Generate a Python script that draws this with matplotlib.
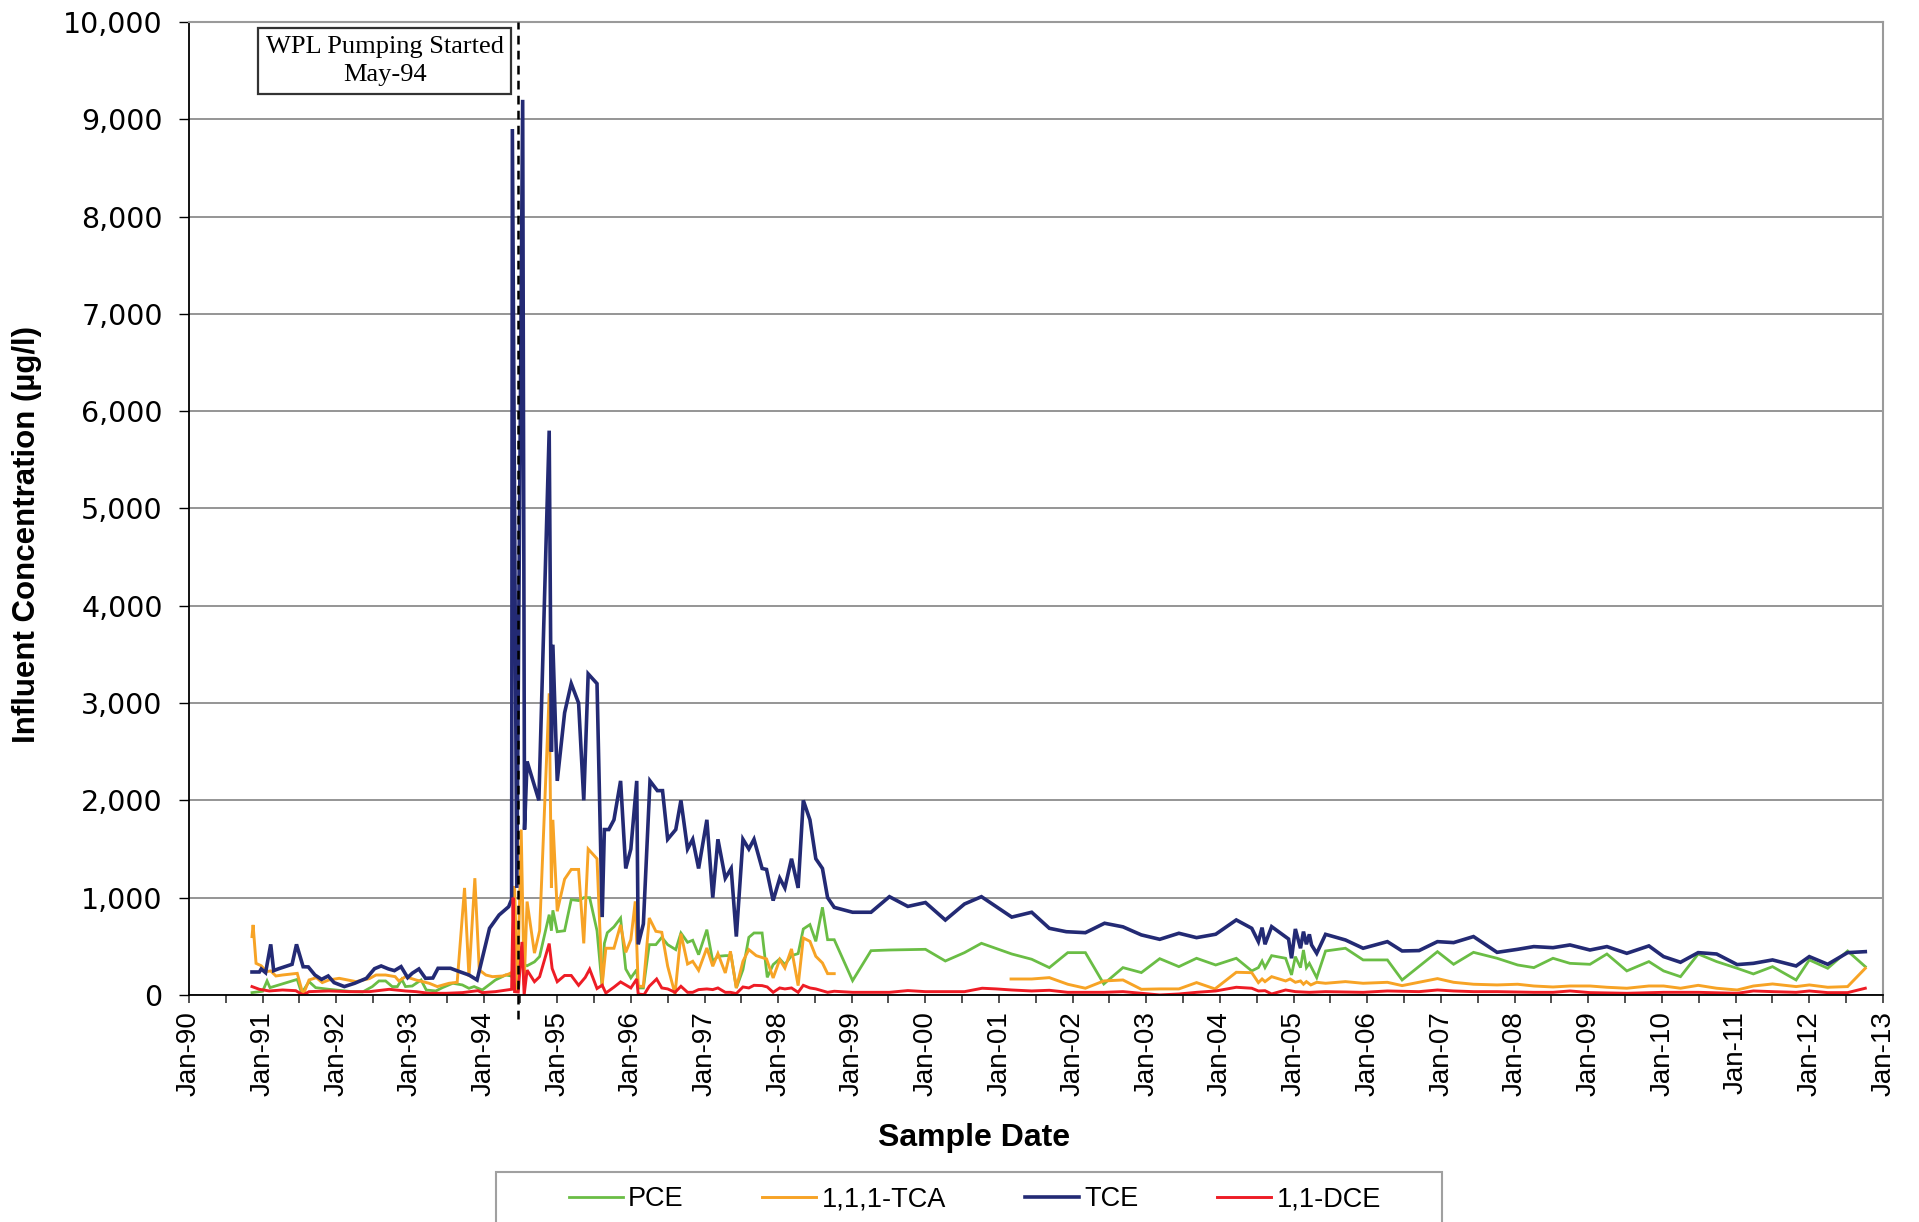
import matplotlib
matplotlib.use("Agg")
import matplotlib.pyplot as plt
import matplotlib.dates as mdates
from matplotlib.patches import Rectangle
from matplotlib.ticker import FuncFormatter
import numpy as np
from datetime import datetime, timedelta

# Sample times are kept as decimal years, concentrations in ug/l
pce_t = [1990.855, 1991.00, 1991.06, 1991.10, 1991.47, 1991.53, 1991.63, 1991.72, 1991.90, 1992.22,
         1992.36, 1992.49, 1992.58, 1992.67, 1992.76, 1992.83, 1992.89, 1992.94, 1993.03, 1993.15,
         1993.22, 1993.35, 1993.44, 1993.58, 1993.71, 1993.80, 1993.87, 1993.98, 1994.16, 1994.30,
         1994.38, 1994.45, 1994.52, 1994.55, 1994.59, 1994.69, 1994.76, 1994.89, 1994.92, 1994.94,
         1995.00, 1995.10, 1995.19, 1995.29, 1995.36, 1995.44, 1995.54, 1995.61, 1995.64, 1995.68,
         1995.77, 1995.86, 1995.93, 1996.00, 1996.08, 1996.10, 1996.17, 1996.25, 1996.34, 1996.42,
         1996.50, 1996.61, 1996.68, 1996.77, 1996.84, 1996.92, 1997.03, 1997.11, 1997.18, 1997.28,
         1997.36, 1997.43, 1997.52, 1997.60, 1997.67, 1997.78, 1997.85, 1997.93, 1998.02, 1998.09,
         1998.18, 1998.27, 1998.34, 1998.43, 1998.51, 1998.60, 1998.67, 1998.76, 1999.01, 1999.26,
         1999.51, 1999.76, 2000.00, 2000.27, 2000.53, 2000.76, 2001.17, 2001.44, 2001.68, 2001.93,
         2002.17, 2002.42, 2002.68, 2002.93, 2003.18, 2003.44, 2003.68, 2003.94, 2004.22, 2004.43,
         2004.52, 2004.57, 2004.61, 2004.70, 2004.89, 2004.97, 2005.02, 2005.09, 2005.13, 2005.17,
         2005.21, 2005.31, 2005.43, 2005.70, 2005.94, 2006.27, 2006.47, 2006.95, 2007.17, 2007.44,
         2007.76, 2008.04, 2008.26, 2008.52, 2008.75, 2009.02, 2009.25, 2009.52, 2009.82, 2010.02,
         2010.25, 2010.49, 2010.74, 2011.02, 2011.24, 2011.50, 2011.82, 2012.00, 2012.25, 2012.52,
         2012.76]
pce_v = [24, 38, 144, 75, 160, 17, 137, 75, 58, 34,
         31, 86, 144, 144, 86, 86, 160, 86, 92, 154,
         51, 41, 75, 120, 103, 68, 86, 51, 154, 205,
         195, 30, 500, 310, 300, 340, 395, 825, 660, 870,
         650, 660, 980, 970, 1000, 1000, 660, 80, 530, 640,
         700, 790, 267, 175, 260, 72, 72, 517, 517, 592,
         517, 466, 637, 541, 562, 414, 671, 346, 397, 404,
         404, 72, 260, 592, 637, 637, 181, 312, 370, 312,
         404, 425, 678, 723, 551, 901, 568, 568, 147, 455,
         462, 465, 469, 349, 435, 531, 421, 367, 281, 435,
         435, 113, 281, 230, 373, 291, 377, 308, 377, 247,
         281, 349, 281, 404, 377, 206, 394, 281, 462, 281,
         325, 178, 452, 480, 360, 360, 154, 445, 315, 438,
         377, 308, 281, 377, 325, 315, 421, 247, 343, 247,
         188, 421, 343, 274, 216, 291, 154, 360, 274, 452,
         291]

tca_t = [1990.855, 1990.87, 1990.91, 1990.98, 1991.05, 1991.11, 1991.18, 1991.27, 1991.47, 1991.55,
         1991.63, 1991.73, 1991.81, 1991.90, 1992.04, 1992.27, 1992.45, 1992.54, 1992.67, 1992.80,
         1992.85, 1992.94, 1993.08, 1993.26, 1993.37, 1993.53, 1993.64, 1993.74, 1993.80, 1993.88,
         1993.94, 1994.03, 1994.12, 1994.26, 1994.34, 1994.40, 1994.42, 1994.46, 1994.51, 1994.55,
         1994.59, 1994.69, 1994.76, 1994.89, 1994.92, 1994.94, 1995.00, 1995.10, 1995.19, 1995.29,
         1995.36, 1995.42, 1995.54, 1995.61, 1995.66, 1995.77, 1995.86, 1995.93, 1996.00, 1996.06,
         1996.10, 1996.17, 1996.25, 1996.34, 1996.42, 1996.50, 1996.60, 1996.68, 1996.77, 1996.84,
         1996.92, 1997.03, 1997.11, 1997.18, 1997.28, 1997.35, 1997.43, 1997.52, 1997.60, 1997.70,
         1997.84, 1997.93, 1998.02, 1998.09, 1998.18, 1998.27, 1998.34, 1998.43, 1998.51, 1998.60,
         1998.67, 1998.76, 2000.00, 2001.16, 2001.44, 2001.68, 2001.93, 2002.17, 2002.42, 2002.68,
         2002.93, 2003.18, 2003.44, 2003.68, 2003.93, 2004.22, 2004.43, 2004.52, 2004.57, 2004.61,
         2004.70, 2004.89, 2004.95, 2005.02, 2005.09, 2005.13, 2005.17, 2005.23, 2005.31, 2005.43,
         2005.70, 2005.94, 2006.27, 2006.47, 2006.70, 2006.95, 2007.17, 2007.44, 2007.76, 2008.04,
         2008.26, 2008.52, 2008.75, 2009.02, 2009.25, 2009.52, 2009.82, 2010.02, 2010.25, 2010.49,
         2010.74, 2011.02, 2011.24, 2011.50, 2011.82, 2012.00, 2012.25, 2012.52, 2012.76]
tca_v = [600, 720, 325, 300, 240, 247, 195, 205, 222, 0,
         154, 178, 127, 154, 171, 137, 168, 205, 205, 188,
         144, 188, 154, 120, 86, 120, 130, 1100, 188, 1200,
         257, 205, 188, 195, 215, 238, 1120, 30, 1700, 100,
         960, 430, 660, 3100, 1100, 1800, 860, 1190, 1290, 1290,
         530, 1500, 1400, 100, 480, 480, 720, 438, 568, 962,
         89, 89, 791, 654, 644, 295, 10, 630, 318, 346,
         253, 483, 295, 425, 226, 449, 72, 346, 466, 404,
         370, 175, 363, 277, 473, 96, 586, 551, 397, 329,
         219, 219, None, 164, 164, 178, 110, 69, 144, 154,
         58, 62, 62, 127, 62, 233, 229, 127, 164, 137,
         188, 144, 164, 130, 144, 110, 137, 103, 130, 120,
         137, 120, 130, 96, 130, 168, 130, 110, 103, 110,
         92, 82, 92, 92, 79, 69, 92, 92, 69, 99,
         69, 51, 92, 113, 86, 103, 79, 86, 274]

tce_t = [1990.855, 1990.955, 1990.98, 1991.04, 1991.11, 1991.15, 1991.22, 1991.40, 1991.46, 1991.55,
         1991.62, 1991.71, 1991.80, 1991.89, 1991.97, 1992.11, 1992.25, 1992.41, 1992.52, 1992.61,
         1992.71, 1992.79, 1992.88, 1992.97, 1993.03, 1993.12, 1993.21, 1993.31, 1993.38, 1993.55,
         1993.67, 1993.80, 1993.91, 1994.08, 1994.21, 1994.34, 1994.38, 1994.39, 1994.45, 1994.53,
         1994.555, 1994.59, 1994.75, 1994.89, 1994.92, 1994.94, 1995.00, 1995.10, 1995.19, 1995.29,
         1995.36, 1995.42, 1995.54, 1995.61, 1995.64, 1995.70, 1995.77, 1995.86, 1995.93, 1996.00,
         1996.08, 1996.10, 1996.17, 1996.26, 1996.36, 1996.43, 1996.50, 1996.61, 1996.68, 1996.77,
         1996.84, 1996.92, 1997.03, 1997.11, 1997.18, 1997.28, 1997.36, 1997.43, 1997.52, 1997.60,
         1997.67, 1997.78, 1997.84, 1997.93, 1998.02, 1998.09, 1998.18, 1998.27, 1998.34, 1998.43,
         1998.51, 1998.60, 1998.67, 1998.76, 1999.01, 1999.26, 1999.51, 1999.76, 2000.00, 2000.27,
         2000.53, 2000.76, 2000.96, 2001.17, 2001.44, 2001.68, 2001.91, 2002.17, 2002.43, 2002.68,
         2002.93, 2003.18, 2003.44, 2003.68, 2003.94, 2004.22, 2004.43, 2004.52, 2004.57, 2004.61,
         2004.70, 2004.93, 2004.97, 2005.02, 2005.09, 2005.13, 2005.17, 2005.21, 2005.24, 2005.31,
         2005.43, 2005.70, 2005.94, 2006.27, 2006.47, 2006.70, 2006.95, 2007.17, 2007.44, 2007.76,
         2008.04, 2008.26, 2008.52, 2008.75, 2009.02, 2009.25, 2009.52, 2009.82, 2010.02, 2010.25,
         2010.49, 2010.74, 2011.02, 2011.24, 2011.50, 2011.82, 2012.00, 2012.25, 2012.52, 2012.76]
tce_v = [236, 236, 267, 229, 520, 250, 270, 315, 520, 290,
         288, 205, 160, 195, 127, 86, 120, 171, 270, 298,
         267, 250, 291, 178, 223, 267, 171, 174, 274, 274,
         240, 205, 154, 685, 822, 907, 983, 8900, 1100, 9200,
         1700, 2400, 2000, 5800, 2500, 3600, 2200, 2900, 3200, 3000,
         2000, 3300, 3200, 800, 1700, 1700, 1800, 2200, 1300, 1500,
         2200, 520, 730, 2200, 2100, 2100, 1600, 1700, 2000, 1500,
         1600, 1300, 1800, 1000, 1600, 1200, 1300, 600, 1600, 1500,
         1600, 1300, 1290, 970, 1200, 1100, 1400, 1100, 2000, 1800,
         1400, 1300, 1000, 900, 850, 850, 1010, 910, 950, 770,
         935, 1010, 908, 800, 850, 685, 650, 640, 737, 700,
         617, 572, 634, 589, 624, 771, 685, 548, 692, 521,
         702, 575, 377, 678, 480, 651, 521, 623, 514, 428,
         623, 565, 480, 548, 452, 456, 548, 538, 600, 438,
         469, 497, 486, 514, 462, 497, 428, 504, 394, 336,
         435, 421, 312, 325, 360, 298, 394, 315, 435, 445]

dce_t = [1990.855, 1990.955, 1991.09, 1991.27, 1991.45, 1991.55, 1991.63, 1991.90, 1992.18, 1992.45,
         1992.72, 1992.94, 1993.08, 1993.26, 1993.49, 1993.71, 1993.92, 1993.98, 1994.16, 1994.38,
         1994.40, 1994.42, 1994.47, 1994.52, 1994.55, 1994.59, 1994.69, 1994.76, 1994.89, 1994.93,
         1995.00, 1995.10, 1995.19, 1995.29, 1995.38, 1995.44, 1995.54, 1995.61, 1995.66, 1995.77,
         1995.86, 1996.00, 1996.08, 1996.10, 1996.18, 1996.25, 1996.35, 1996.42, 1996.50, 1996.60,
         1996.68, 1996.77, 1996.84, 1996.92, 1997.03, 1997.11, 1997.18, 1997.28, 1997.35, 1997.43,
         1997.52, 1997.60, 1997.67, 1997.78, 1997.85, 1997.93, 1998.02, 1998.09, 1998.18, 1998.27,
         1998.34, 1998.43, 1998.51, 1998.67, 1998.76, 1999.01, 1999.26, 1999.51, 1999.76, 2000.00,
         2000.27, 2000.53, 2000.77, 2000.96, 2001.17, 2001.44, 2001.68, 2001.93, 2002.17, 2002.42,
         2002.68, 2002.93, 2003.18, 2003.44, 2003.68, 2003.94, 2004.22, 2004.43, 2004.52, 2004.61,
         2004.70, 2004.89, 2005.02, 2005.21, 2005.43, 2005.94, 2006.27, 2006.70, 2006.95, 2007.17,
         2007.44, 2007.76, 2008.26, 2008.52, 2008.75, 2009.02, 2009.52, 2010.02, 2010.49, 2011.02,
         2011.24, 2011.50, 2011.82, 2012.00, 2012.25, 2012.52, 2012.76]
dce_v = [86, 58, 41, 51, 44, 0, 34, 41, 34, 34,
         58, 41, 34, 17, 17, 24, 44, 24, 34, 58,
         1000, 34, 30, 545, 0, 255, 136, 187, 528, 272,
         136, 200, 200, 99, 180, 265, 66, 100, 20, 80,
         134, 72, 164, 10, 3, 89, 164, 72, 62, 27,
         89, 27, 27, 55, 62, 55, 72, 27, 27, 14,
         82, 72, 99, 96, 82, 27, 72, 62, 72, 27,
         99, 72, 62, 27, 38, 27, 27, 27, 45, 34,
         34, 34, 69, 62, 51, 41, 48, 27, 27, 27,
         34, 17, 0, 10, 27, 41, 79, 69, 41, 44,
         10, 51, 34, 27, 34, 27, 41, 34, 51, 41,
         34, 34, 27, 27, 41, 24, 17, 27, 27, 17,
         41, 34, 27, 41, 24, 24, 69]

series_names = ["PCE", "1,1,1-TCA", "TCE", "1,1-DCE"]
series_colors = ["#6abd45", "#f7a325", "#232a74", "#ee1c25"]
series_widths = [2.0, 2.1, 2.6, 2.1]

pumping_start = 1994.46
note_text = "WPL Pumping Started\nMay-94"


def to_dates(years):
    out = []
    for y in years:
        yr = int(y)
        out.append(datetime(yr, 1, 1) + timedelta(days=(y - yr) * 365.25))
    return out


def to_values(vals):
    return np.array([np.nan if v is None else v for v in vals], dtype=float)


fig = plt.figure(figsize=(19.19, 12.22), dpi=100)
ax = fig.add_axes([0.0985, 0.1858, 0.8828, 0.7962])

all_t = [pce_t, tca_t, tce_t, dce_t]
all_v = [pce_v, tca_v, tce_v, dce_v]
for t, v, name, c, lw in zip(all_t, all_v, series_names, series_colors, series_widths):
    ax.plot(to_dates(t), to_values(v), color=c, lw=lw, label=name, solid_joinstyle="miter")

ax.set_xlim(datetime(1990, 1, 1), datetime(2013, 1, 1))
ax.set_ylim(0, 10000)
ax.set_yticks(np.arange(0, 10001, 1000))
ax.yaxis.set_major_formatter(FuncFormatter(lambda v, p: f"{int(v):,}"))
ax.grid(axis="y", color="#8c8c8c", lw=1.3)
ax.set_axisbelow(True)

# Jan ticks labelled, Jul ticks plain
ax.xaxis.set_major_locator(mdates.MonthLocator(bymonth=1))
ax.xaxis.set_major_formatter(mdates.DateFormatter("%b-%y"))
ax.xaxis.set_minor_locator(mdates.MonthLocator(bymonth=7))
ax.tick_params(axis="x", which="both", direction="out", length=6, width=1.1, color="#222")
ax.tick_params(axis="x", which="major", pad=6, labelsize=20, labelrotation=90)
ax.tick_params(axis="y", direction="out", length=7, width=1.0, pad=12, labelsize=20.5)
for lab in ax.get_xticklabels():
    lab.set_family("Liberation Sans")
for lab in ax.get_yticklabels():
    lab.set_family("DejaVu Sans")

for side in ["left", "bottom"]:
    ax.spines[side].set_color("black")
    ax.spines[side].set_linewidth(1.3)
for side in ["top", "right"]:
    ax.spines[side].set_color("#9a9a9a")
    ax.spines[side].set_linewidth(1.5)

# pumping start marker and note
pump_x = to_dates([pumping_start])[0]
ax.axvline(pump_x, ymin=-0.025, ymax=1, color="black", lw=1.8,
           linestyle=(0, (3.5, 2.5)), clip_on=False, zorder=5)
ax.text(to_dates([1992.656])[0], 9600, note_text, ha="center", va="center",
        fontsize=19, family="Liberation Serif", linespacing=1.4, zorder=6,
        bbox=dict(boxstyle="square,pad=0.3", fc="white", ec="#333333", lw=1.6))

fig.text(27 / 1919, 0.563, "Influent Concentration (\u00b5g/l)", rotation=90,
         ha="center", va="center", fontsize=22.5, fontweight="bold", family="Liberation Sans")
fig.text(0.5077, 0.0687, "Sample Date", ha="center", va="center",
         fontsize=23, fontweight="bold", family="Liberation Sans")

# legend frame runs past the bottom edge
fig.patches.append(Rectangle((496 / 1919, -0.01), (1442 - 496) / 1919, (1222 - 1172) / 1222 + 0.01,
                             transform=fig.transFigure, fill=False, ec="#a0a0a0", lw=1.5))
leg = fig.legend(loc="center", bbox_to_anchor=(0.508, 1 - 1199.5 / 1222), ncol=4,
                 frameon=False, handlelength=2.0, handletextpad=0.2,
                 columnspacing=2.9, prop={"family": "Liberation Sans", "size": 19.5})

fig.savefig("out.png", dpi=100)
